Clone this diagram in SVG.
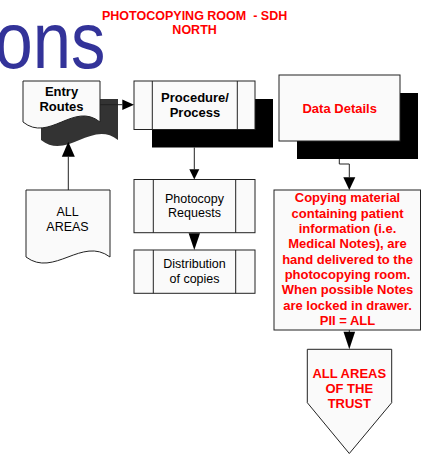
<svg xmlns="http://www.w3.org/2000/svg" width="421" height="454" viewBox="0 0 421 454">
<style>
.box{fill:#fafafa;stroke:#222;stroke-width:1}
.shadow{fill:#000}
.dshadow{fill:#333}
.ln{fill:none;stroke:#222;stroke-width:1}
.ah{fill:#000}
.t{font-family:"Liberation Sans",Arial,sans-serif;text-anchor:middle}
.b{font-weight:bold;font-size:13px;fill:#000}
.r{font-weight:bold;font-size:13px;fill:#ff0000}
.n{font-size:12.5px;fill:#000}
</style>
<rect width="421" height="454" fill="#fff"/>
<g id="title-bg">
<text transform="translate(105.4,68) scale(0.86,1)" x="0" y="0" font-family="Liberation Sans,Arial,sans-serif" font-size="80" fill="#333399" text-anchor="end">ons</text>
</g>
<g id="title">
<text class="t" x="194.6" y="19.5" font-size="12.5" font-weight="bold" fill="#ff0000" xml:space="preserve">PHOTOCOPYING ROOM  - SDH</text>
<text class="t" x="194.6" y="34" font-size="12.5" font-weight="bold" fill="#ff0000">NORTH</text>
</g>
<g id="entry-routes">
<path class="dshadow" d="M41,99 H118 V140 C92,119 67,161 41,140 Z"/>
<path class="box" d="M23,81 H100 V122 C74,101 49,143 23,122 Z"/>
<text class="t b" x="61.5" y="95.5">Entry</text>
<text class="t b" x="61.5" y="110.7">Routes</text>
</g>
<g id="procedure">
<rect class="shadow" x="152" y="99" width="121" height="48.5"/>
<rect class="box" x="134" y="81" width="121" height="48.5"/>
<line class="ln" x1="152.3" y1="81" x2="152.3" y2="129.5"/>
<line class="ln" x1="237.3" y1="81" x2="237.3" y2="129.5"/>
<text class="t b" x="195" y="102">Procedure/</text>
<text class="t b" x="195" y="117.3">Process</text>
</g>
<g id="data-details">
<rect class="shadow" x="297" y="93" width="121" height="66"/>
<rect class="box" x="279" y="75" width="121" height="66"/>
<text class="t r" x="339.7" y="112.5">Data Details</text>
</g>
<g id="all-areas">
<path class="box" d="M26,190 H110 V257 C82,236 54,278 26,257 Z"/>
<text class="t n" x="67.5" y="215.5">ALL</text>
<text class="t n" x="67.5" y="230.7">AREAS</text>
</g>
<g id="photocopy-requests">
<rect class="box" x="134" y="179.5" width="121" height="53.2"/>
<line class="ln" x1="153.3" y1="179.5" x2="153.3" y2="232.7"/>
<line class="ln" x1="235.7" y1="179.5" x2="235.7" y2="232.7"/>
<text class="t n" x="194.5" y="202.8">Photocopy</text>
<text class="t n" x="194.5" y="217">Requests</text>
</g>
<g id="distribution">
<rect class="box" x="134" y="250" width="121" height="43.3"/>
<line class="ln" x1="153.3" y1="250" x2="153.3" y2="293.3"/>
<line class="ln" x1="235.7" y1="250" x2="235.7" y2="293.3"/>
<text class="t n" x="194.5" y="267.8">Distribution</text>
<text class="t n" x="194.5" y="282.7">of copies</text>
</g>
<g id="copying-material">
<rect class="box" x="274" y="190" width="146.5" height="140"/>
<text class="t r" x="347.5" y="202.3">Copying material</text>
<text class="t r" x="347.5" y="217.6">containing patient</text>
<text class="t r" x="347.5" y="233">information (i.e.</text>
<text class="t r" x="347.5" y="248.3">Medical Notes), are</text>
<text class="t r" x="347.5" y="263.7">hand delivered to the</text>
<text class="t r" x="347.5" y="279">photocopying room.</text>
<text class="t r" x="347.5" y="294.3">When possible Notes</text>
<text class="t r" x="347.5" y="309.7">are locked in drawer.</text>
<text class="t r" x="347.5" y="325">PII = ALL</text>
</g>
<g id="all-areas-trust">
<path class="box" d="M307.3,349.3 H391.7 V402.7 L349.3,453.5 L307.3,402.7 Z"/>
<text class="t r" x="349.3" y="377.5">ALL AREAS</text>
<text class="t r" x="349.3" y="392.8">OF THE</text>
<text class="t r" x="349.3" y="408.2">TRUST</text>
</g>
<g id="connectors">
<line class="ln" x1="100" y1="104.7" x2="122.3" y2="104.7"/>
<polygon class="ah" points="122.3,99.4 134,104.7 122.3,110"/>
<line class="ln" x1="68.3" y1="190" x2="68.3" y2="156.7"/>
<polygon class="ah" points="61.8,156.7 68.3,141.7 74.8,156.7"/>
<line class="ln" x1="194.3" y1="147.5" x2="194.3" y2="169.3"/>
<polygon class="ah" points="189.3,169.3 194.3,179.5 199.3,169.3"/>
<polygon class="ah" points="188.6,233.3 194.3,250 200,233.3"/>
<polyline class="ln" points="339.3,159 339.3,164 349.3,164 349.3,177.3"/>
<polygon class="ah" points="343.3,177.3 349.3,190 355.3,177.3"/>
<line class="ln" x1="349.3" y1="330" x2="349.3" y2="332"/>
<polygon class="ah" points="343.5,331.7 349.3,349.3 355.1,331.7"/>
</g>
</svg>
